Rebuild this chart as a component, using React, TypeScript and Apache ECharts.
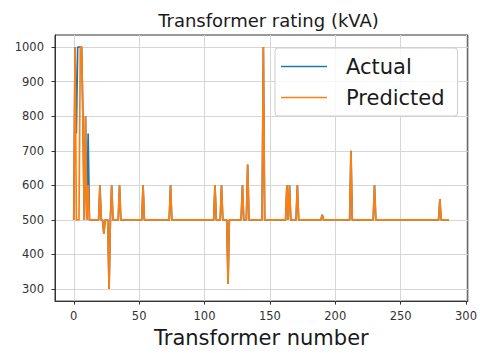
import React, { useEffect, useRef } from "react";
import * as echarts from "echarts";

// Transformer rating (kVA) per transformer number (index 0..287)
const actualRating: number[] = [
  500, 1000, 750, 1000, 1000, 1000, 1000, 800, 500, 800, 500, 750, 500, 500, 500, 500, 500, 500, 500, 500, 600, 500, 500, 460,
  500, 500, 500, 300, 500, 600, 500, 500, 500, 500, 500, 600, 500, 500, 500, 500, 500, 500, 500, 500, 500, 500, 500, 500,
  500, 500, 500, 500, 500, 600, 500, 500, 500, 500, 500, 500, 500, 500, 500, 500, 500, 500, 500, 500, 500, 500, 500, 500,
  500, 500, 600, 500, 500, 500, 500, 500, 500, 500, 500, 500, 500, 500, 500, 500, 500, 500, 500, 500, 500, 500, 500, 500,
  500, 500, 500, 500, 500, 500, 500, 500, 500, 500, 500, 500, 600, 500, 500, 500, 500, 600, 500, 500, 500, 500, 315, 500,
  500, 500, 500, 500, 500, 500, 500, 500, 500, 600, 500, 500, 500, 660, 500, 500, 500, 500, 500, 500, 500, 500, 500, 500,
  500, 1000, 500, 500, 500, 500, 500, 500, 500, 500, 500, 500, 500, 500, 500, 500, 500, 500, 500, 600, 500, 600, 500, 500,
  500, 500, 500, 600, 500, 500, 500, 500, 500, 500, 500, 500, 500, 500, 500, 500, 500, 500, 500, 500, 500, 500, 515, 500,
  500, 500, 500, 500, 500, 500, 500, 500, 500, 500, 500, 500, 500, 500, 500, 500, 500, 500, 500, 500, 700, 500, 500, 500,
  500, 500, 500, 500, 500, 500, 500, 500, 500, 500, 500, 500, 500, 500, 600, 500, 500, 500, 500, 500, 500, 500, 500, 500,
  500, 500, 500, 500, 500, 500, 500, 500, 500, 500, 500, 500, 500, 500, 500, 500, 500, 500, 500, 500, 500, 500, 500, 500,
  500, 500, 500, 500, 500, 500, 500, 500, 500, 500, 500, 500, 500, 500, 500, 500, 560, 500, 500, 500, 500, 500, 500, 500,
];

const predictedRating: number[] = [
  500, 1000, 500, 500, 500, 1000, 1000, 800, 500, 800, 500, 600, 500, 500, 500, 500, 500, 500, 500, 500, 600, 500, 500, 460,
  500, 500, 500, 300, 500, 600, 500, 500, 500, 500, 500, 600, 500, 500, 500, 500, 500, 500, 500, 500, 500, 500, 500, 500,
  500, 500, 500, 500, 500, 600, 500, 500, 500, 500, 500, 500, 500, 500, 500, 500, 500, 500, 500, 500, 500, 500, 500, 500,
  500, 500, 600, 500, 500, 500, 500, 500, 500, 500, 500, 500, 500, 500, 500, 500, 500, 500, 500, 500, 500, 500, 500, 500,
  500, 500, 500, 500, 500, 500, 500, 500, 500, 500, 500, 500, 600, 500, 500, 500, 500, 600, 500, 500, 500, 500, 315, 500,
  500, 500, 500, 500, 500, 500, 500, 500, 500, 600, 500, 500, 500, 660, 500, 500, 500, 500, 500, 500, 500, 500, 500, 500,
  500, 1000, 500, 500, 500, 500, 500, 500, 500, 500, 500, 500, 500, 500, 500, 500, 500, 500, 500, 600, 500, 600, 500, 500,
  500, 500, 500, 600, 500, 500, 500, 500, 500, 500, 500, 500, 500, 500, 500, 500, 500, 500, 500, 500, 500, 500, 515, 500,
  500, 500, 500, 500, 500, 500, 500, 500, 500, 500, 500, 500, 500, 500, 500, 500, 500, 500, 500, 500, 700, 500, 500, 500,
  500, 500, 500, 500, 500, 500, 500, 500, 500, 500, 500, 500, 500, 500, 600, 500, 500, 500, 500, 500, 500, 500, 500, 500,
  500, 500, 500, 500, 500, 500, 500, 500, 500, 500, 500, 500, 500, 500, 500, 500, 500, 500, 500, 500, 500, 500, 500, 500,
  500, 500, 500, 500, 500, 500, 500, 500, 500, 500, 500, 500, 500, 500, 500, 500, 560, 500, 500, 500, 500, 500, 500, 500,
];

const xTickValues: number[] = [0, 50, 100, 150, 200, 250, 300];
const yTickValues: number[] = [300, 400, 500, 600, 700, 800, 900, 1000];
const seriesNames: string[] = ["Actual", "Predicted"];

const FONT = "DejaVu Sans";

export default function App() {
  const ref = useRef<HTMLDivElement>(null);

  useEffect(() => {
    if (!ref.current) return;
    const chart = echarts.init(ref.current, undefined, { renderer: "svg" });
    const toPairs = (arr: number[]) => arr.map((v, i) => [i, v]);
    const n = actualRating.length - 1;
    const xPad = n * 0.05;
    const yMin = Math.min(...predictedRating, ...actualRating);
    const yMax = Math.max(...predictedRating, ...actualRating);
    const yPad = (yMax - yMin) * 0.05;

    chart.setOption({
      animation: false,
      backgroundColor: "#ffffff",
      textStyle: { fontFamily: FONT },
      title: {
        text: "Transformer rating (kVA)",
        left: 263.5,
        top: 6,
        textAlign: "center",
        textStyle: { fontFamily: FONT, fontSize: 18, fontWeight: "normal", color: "#1a1a1a" },
      },
      grid: {
        left: 55,
        right: 8,
        top: 35,
        bottom: 47,
        show: true,
        borderColor: "#333",
        borderWidth: 1,
        backgroundColor: "transparent",
      },
      legend: {
        orient: "vertical",
        left: 275,
        top: 48,
        data: seriesNames.map((name) => ({ name, icon: "rect" })),
        itemWidth: 46,
        itemHeight: 1.5,
        itemGap: 10,
        padding: [8, 13, 8, 6],
        backgroundColor: "rgba(255,255,255,0.8)",
        borderColor: "#cccccc",
        borderWidth: 1,
        borderRadius: 3,
        textStyle: { fontFamily: FONT, fontSize: 21, color: "#1a1a1a", padding: [0, 0, 0, 14] },
      },
      xAxis: {
        type: "value",
        min: -xPad,
        max: n + xPad,
        splitNumber: 6,
        minInterval: 50,
        maxInterval: 50,
        name: "Transformer number",
        nameLocation: "middle",
        nameGap: 25,
        nameTextStyle: { fontFamily: FONT, fontSize: 21, color: "#1a1a1a" },
        axisLine: { show: true, onZero: false, lineStyle: { color: "#333", width: 1 } },
        axisTick: { show: true, length: 3.5, lineStyle: { color: "#333" }, customValues: xTickValues },
        axisLabel: {
          customValues: xTickValues,
          formatter: (v: number) => String(v),
          fontFamily: FONT,
          fontSize: 11.5,
          color: "#333",
          margin: 9,
        },
        splitLine: { show: true, lineStyle: { color: "#d6d6d6", width: 1 } },
      },
      yAxis: {
        type: "value",
        min: yMin - yPad,
        max: yMax + yPad,
        splitNumber: 8,
        minInterval: 100,
        maxInterval: 100,
        axisLine: { show: true, onZero: false, lineStyle: { color: "#333", width: 1 } },
        axisTick: { show: true, length: 3.5, lineStyle: { color: "#333" }, customValues: yTickValues },
        axisLabel: {
          customValues: yTickValues,
          formatter: (v: number) => String(v),
          fontFamily: FONT,
          fontSize: 11.5,
          color: "#333",
          margin: 11,
        },
        splitLine: { show: true, lineStyle: { color: "#d6d6d6", width: 1 } },
      },
      series: [
        {
          name: seriesNames[0],
          type: "line",
          data: toPairs(actualRating),
          symbol: "none",
          color: "#1f77b4",
          lineStyle: { width: 1.7, color: "#1f77b4" },
          z: 2,
        },
        {
          name: seriesNames[1],
          type: "line",
          data: toPairs(predictedRating),
          symbol: "none",
          color: "#ff7f0e",
          lineStyle: { width: 1.7, color: "#ff7f0e" },
          z: 3,
        },
      ],
    });
    return () => chart.dispose();
  }, []);

  return (
    <div
      ref={ref}
      style={{ position: "fixed", left: 0, top: 0, width: 480, height: 353 }}
    />
  );
}
